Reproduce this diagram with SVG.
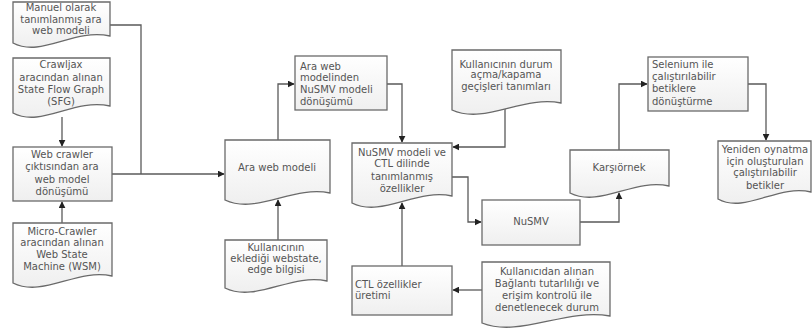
<svg xmlns="http://www.w3.org/2000/svg" width="812" height="331" viewBox="0 0 812 331">
<defs>
<linearGradient id="g" x1="0" y1="0" x2="0" y2="1">
<stop offset="0" stop-color="#ffffff"/>
<stop offset="1" stop-color="#efefef"/>
</linearGradient>
<marker id="ah" viewBox="0 0 10 10" refX="9" refY="5" markerWidth="7" markerHeight="7" markerUnits="userSpaceOnUse" orient="auto">
<path d="M0,0 L10,5 L0,10 Z" fill="#222"/>
</marker>
<style>
.s{fill:url(#g);stroke:#6a6a6a;stroke-width:1.3}
.t{font-family:"DejaVu Sans",Verdana,sans-serif;font-size:10px;fill:#555;text-anchor:middle}
.l{text-anchor:start}
.c{fill:none;stroke:#5a5a5a;stroke-width:1.3}
.a{marker-end:url(#ah)}
</style>
</defs>
<rect width="812" height="331" fill="#ffffff"/>

<g id="connectors">
<path class="c a" d="M62,117 V146"/>
<path class="c a" d="M62,223 V202"/>
<path class="c" d="M110,25 H141 V174"/>
<path class="c a" d="M112,174 H224"/>
<path class="c a" d="M278,140 V84 H294"/>
<path class="c a" d="M278,240 V200"/>
<path class="c a" d="M387,84 H402 V142"/>
<path class="c a" d="M505,109 V147 H453"/>
<path class="c a" d="M452,177 H468 V222 H481"/>
<path class="c a" d="M402,266 V203"/>
<path class="c a" d="M482,290 H453"/>
<path class="c a" d="M580,222 H619 V193"/>
<path class="c a" d="M619,150 V84 H647"/>
<path class="c a" d="M748,84 H766 V140"/>
</g>

<g id="n1">
<path class="s" d="M13,2 H110 V36 C73,28 42,58 13,43 Z"/>
<text class="t" x="61" y="11">Manuel olarak</text>
<text class="t" x="61" y="23">tanımlanmış ara</text>
<text class="t" x="61" y="34">web modeli</text>
</g>

<g id="n2">
<path class="s" d="M13,58 H110 V106 C73,98 42,128 13,113 Z"/>
<text class="t" x="61" y="68">Crawljax</text>
<text class="t" x="61" y="81">aracından alınan</text>
<text class="t" x="61" y="93">State Flow Graph</text>
<text class="t" x="61" y="105">(SFG)</text>
</g>

<g id="n3">
<rect class="s" x="13" y="147" width="99" height="54"/>
<text class="t" x="62" y="158">Web crawler</text>
<text class="t" x="62" y="170">çıktısından ara</text>
<text class="t" x="62" y="183">web model</text>
<text class="t" x="62" y="195">dönüşümü</text>
</g>

<g id="n4">
<path class="s" d="M13,223 H112 V276 C77,268 43,298 13,283 Z"/>
<text class="t" x="62" y="235">Micro-Crawler</text>
<text class="t" x="62" y="246">aracından alınan</text>
<text class="t" x="62" y="258">Web State</text>
<text class="t" x="62" y="270">Machine (WSM)</text>
</g>

<g id="n5">
<path class="s" d="M225,140 H330 V193 C293,185 257,215 225,200 Z"/>
<text class="t" x="277" y="171">Ara web modeli</text>
</g>

<g id="n6">
<rect class="s" x="295" y="56" width="92" height="54"/>
<text class="t l" x="300" y="70">Ara web</text>
<text class="t l" x="300" y="81">modelinden</text>
<text class="t l" x="300" y="93">NuSMV modeli</text>
<text class="t l" x="300" y="105">dönüşümü</text>
</g>

<g id="n7">
<path class="s" d="M225,240 H327 V281 C291,273 256,303 225,288 Z"/>
<text class="t" x="276" y="251">Kullanıcının</text>
<text class="t" x="276" y="262">eklediği webstate,</text>
<text class="t" x="276" y="273">edge bilgisi</text>
</g>

<g id="n8">
<path class="s" d="M352,143 H452 V196 C417,188 382,218 352,203 Z"/>
<text class="t" x="402" y="156">NuSMV modeli ve</text>
<text class="t" x="402" y="167">CTL dilinde</text>
<text class="t" x="402" y="180">tanımlanmış</text>
<text class="t" x="402" y="192">özellikler</text>
</g>

<g id="n9">
<path class="s" d="M452,50 H561 V103 C523,95 485,125 452,110 Z"/>
<text class="t" x="506" y="68">Kullanıcının durum</text>
<text class="t" x="506" y="78">açma/kapama</text>
<text class="t" x="506" y="90">geçişleri tanımları</text>
</g>

<g id="n10">
<rect class="s" x="482" y="200" width="98" height="45"/>
<text class="t" x="531" y="225">NuSMV</text>
</g>

<g id="n11">
<rect class="s" x="352" y="266" width="100" height="49"/>
<text class="t l" x="355" y="288">CTL özellikler</text>
<text class="t l" x="355" y="299">üretimi</text>
</g>

<g id="n12">
<path class="s" d="M482,262 H610 V316 C565,308 520,338 482,323 Z"/>
<text class="t" x="547" y="275">Kullanıcıdan alınan</text>
<text class="t" x="547" y="287">Bağlantı tutarlılığı ve</text>
<text class="t" x="547" y="299">erişim kontrolü ile</text>
<text class="t" x="547" y="311">denetlenecek durum</text>
</g>

<g id="n13">
<path class="s" d="M570,150 H669 V186 C634,178 600,208 570,193 Z"/>
<text class="t" x="619" y="171">Karşıörnek</text>
</g>

<g id="n14">
<rect class="s" x="648" y="57" width="100" height="54"/>
<text class="t l" x="652" y="68">Selenium ile</text>
<text class="t l" x="652" y="80">çalıştırılabilir</text>
<text class="t l" x="652" y="92">betiklere</text>
<text class="t l" x="652" y="105">dönüştürme</text>
</g>

<g id="n15">
<path class="s" d="M718,141 H811 V192 C778,184 745,214 718,199 Z"/>
<text class="t" x="765" y="153">Yeniden oynatma</text>
<text class="t" x="765" y="165">için oluşturulan</text>
<text class="t" x="765" y="176">çalıştırılabilir</text>
<text class="t" x="765" y="189">betikler</text>
</g>
</svg>
